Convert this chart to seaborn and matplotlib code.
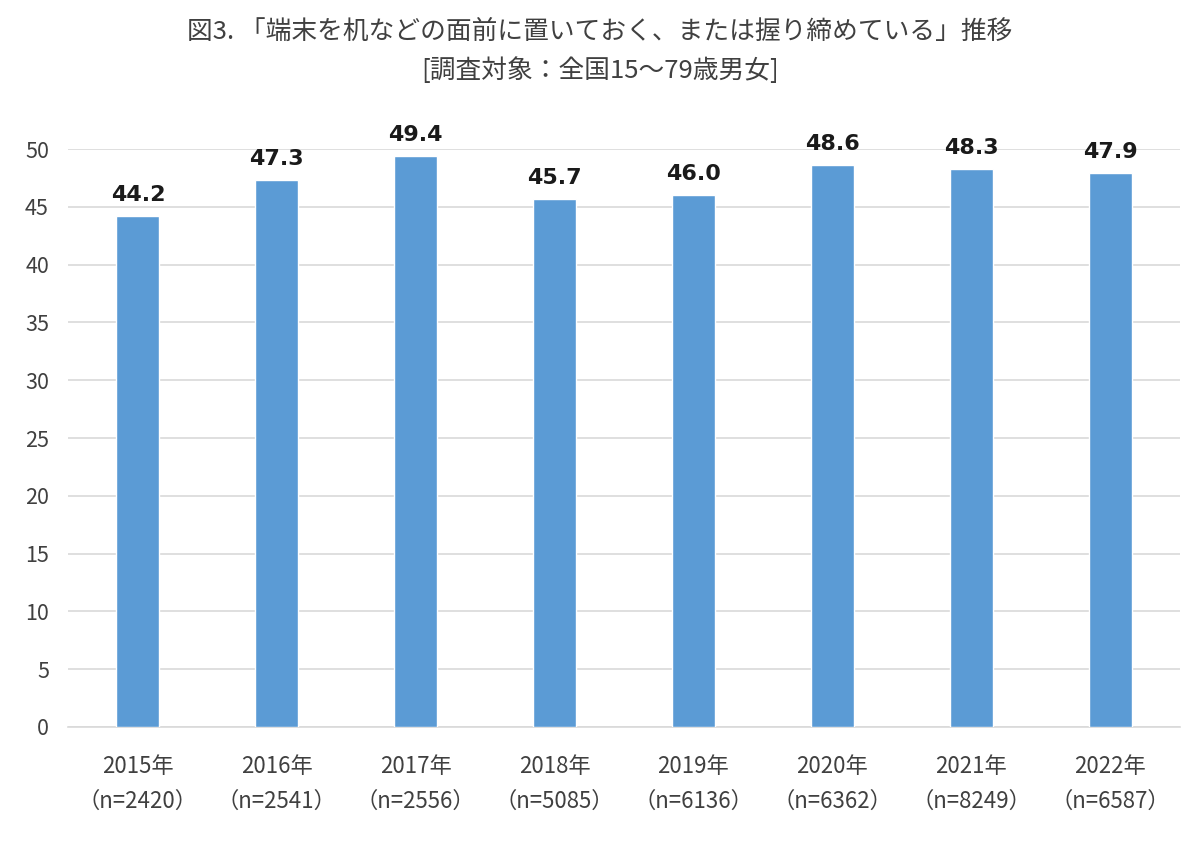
import matplotlib
matplotlib.use("Agg")
import matplotlib.pyplot as plt
import seaborn as sns
import pandas as pd

years = ["2015年", "2016年", "2017年", "2018年", "2019年", "2020年", "2021年", "2022年"]
sample_n = [2420, 2541, 2556, 5085, 6136, 6362, 8249, 6587]
values = [44.2, 47.3, 49.4, 45.7, 46.0, 48.6, 48.3, 47.9]
title_lines = ["図3. 「端末を机などの面前に置いておく、または握り締めている」推移",
               "[調査対象：全国15～79歳男女]"]

sns.set_theme(style="white")
plt.rcParams['font.family'] = ['Noto Sans CJK JP', 'DejaVu Sans']

labels = [f"{y}\n（n={n}）" for y, n in zip(years, sample_n)]
df = pd.DataFrame({"cat": labels, "val": values})

fig = plt.figure(figsize=(12, 8.42), dpi=100)
ax = fig.add_axes([0.057, 0.1366, 0.926, 0.6864])

sns.barplot(data=df, x="cat", y="val", color="#5B9BD5", saturation=1,
            width=0.31, ax=ax, zorder=3)

ax.set_ylim(0, 50)
ax.set_yticks(range(0, 51, 5))
ax.yaxis.grid(True, color="#D9D9D9", linewidth=1.2, zorder=0)
ax.set_axisbelow(True)
for s in ["top", "right", "left"]:
    ax.spines[s].set_visible(False)
ax.spines["bottom"].set_color("#D9D9D9")
ax.spines["bottom"].set_linewidth(1.2)
ax.set_xlabel("")
ax.set_ylabel("")
ax.tick_params(axis="y", length=0, pad=14, labelsize=15.5, labelcolor="#404040")
ax.tick_params(axis="x", length=0, pad=20, labelsize=16, labelcolor="#404040")
for t in ax.get_xticklabels():
    t.set_linespacing(1.65)

for i, v in enumerate(values):
    ax.annotate(f"{v:.1f}", (i, v), xytext=(0, 8), textcoords="offset points",
                ha="center", va="bottom", fontsize=16, fontweight="bold",
                color="#1a1a1a", family=["DejaVu Sans"], annotation_clip=False)

fig.text(0.5, 0.962, title_lines[0], ha="center", va="center", fontsize=18.5, color="#404040")
fig.text(0.5, 0.916, title_lines[1], ha="center", va="center", fontsize=18.5, color="#404040")

fig.savefig("out.png", dpi=100, facecolor="white")
